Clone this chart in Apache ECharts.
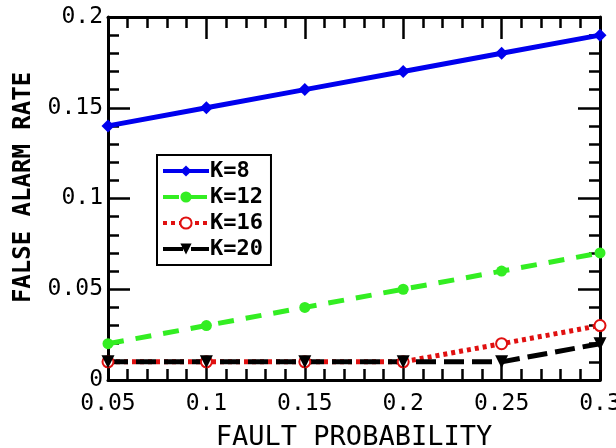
<!DOCTYPE html>
<html><head><meta charset="utf-8">
<script src="https://cdn.jsdelivr.net/npm/echarts@6/dist/echarts.min.js"></script>
<style>html,body{margin:0;padding:0;background:#fff}#c{width:616px;height:448px}</style>
</head><body><div id="c"></div>
<script>
const faultProb = [0.05, 0.1, 0.15, 0.2, 0.25, 0.3];
const k8  = [0.14, 0.15, 0.16, 0.17, 0.18, 0.19];
const k12 = [0.02, 0.03, 0.04, 0.05, 0.06, 0.07];
const k16 = [0.01, 0.01, 0.01, 0.01, 0.02, 0.03];
const k20 = [0.01, 0.01, 0.01, 0.01, 0.01, 0.02];
const seriesNames = ['K=8', 'K=12', 'K=16', 'K=20'];
const xTitle = 'FAULT PROBABILITY';
const yTitle = 'FALSE ALARM RATE';

const FONT = 'DejaVu Sans Mono';
const pairs = a => a.map((v, i) => [faultProb[i], v]);
const fmt = v => String(+(+v).toFixed(2));

const axCommon = {
  axisLine: {show: true, onZero: false, lineStyle: {color: '#000', width: 3}},
  axisTick: {show: true, inside: true, length: 22, lineStyle: {color: '#000', width: 2.5}},
  minorTick: {show: true, splitNumber: 5, length: 11, lineStyle: {color: '#000', width: 2.5}},
  splitLine: {show: false},
  minorSplitLine: {show: false}
};

const chart = echarts.init(document.getElementById('c'), null, {renderer: 'canvas'});
chart.setOption({
  animation: false,
  backgroundColor: '#fff',
  grid: {left: 108, right: 16, top: 17, bottom: 68, containLabel: false, outerBoundsMode: 'none'},
  legend: {
    left: 157, top: 155, orient: 'vertical',
    data: seriesNames,
    backgroundColor: '#fff', borderColor: '#000', borderWidth: 2,
    padding: [5, 8, 5, 4], itemGap: 4, itemWidth: 46, itemHeight: 14,
    lineStyle: {width: 4},
    textStyle: {fontFamily: FONT, fontSize: 22, fontWeight: 'bold', color: '#000', padding: [0, 0, 0, -4]}
  },
  xAxis: [
    Object.assign({}, axCommon, {
      type: 'value', min: 0.05, max: 0.3, interval: 0.05, position: 'bottom',
      name: xTitle, nameLocation: 'middle', nameGap: 44,
      nameTextStyle: {fontFamily: FONT, fontSize: 27, color: '#000'},
      axisLabel: {fontFamily: FONT, fontSize: 23, color: '#000', margin: 13, formatter: fmt}
    }),
    Object.assign({}, axCommon, {
      type: 'value', min: 0.05, max: 0.3, interval: 0.05, position: 'top',
      axisLabel: {show: false}
    })
  ],
  yAxis: [
    Object.assign({}, axCommon, {
      type: 'value', min: 0, max: 0.2, interval: 0.05, position: 'left',
      name: yTitle, nameLocation: 'middle', nameGap: 72, nameRotate: 90,
      nameTextStyle: {fontFamily: FONT, fontSize: 24, fontWeight: 'bold', color: '#000', padding: [0, 0, 0, 22]},
      axisLabel: {fontFamily: FONT, fontSize: 23, color: '#000', margin: 5, formatter: fmt}
    }),
    Object.assign({}, axCommon, {
      type: 'value', min: 0, max: 0.2, interval: 0.05, position: 'right',
      axisLabel: {show: false}
    })
  ],
  series: [
    {name: 'K=8', type: 'line', data: pairs(k8), symbol: 'diamond', symbolSize: 13,
     lineStyle: {color: '#0000ee', width: 5}, itemStyle: {color: '#0000ee'}},
    {name: 'K=12', type: 'line', data: pairs(k12), symbol: 'circle', symbolSize: 11,
     lineStyle: {color: '#33ee22', width: 5, type: [16, 12]}, itemStyle: {color: '#33ee22'}},
    {name: 'K=16', type: 'line', data: pairs(k16), symbol: 'emptyCircle', symbolSize: 11,
     lineStyle: {color: '#e01010', width: 5, type: [4, 4]}, itemStyle: {color: '#e01010', borderWidth: 3}},
    {name: 'K=20', type: 'line', data: pairs(k20), symbol: 'triangle', symbolRotate: 180, symbolSize: 13,
     lineStyle: {color: '#000', width: 5, type: [20, 8]}, itemStyle: {color: '#000'}}
  ]
});
</script></body></html>
